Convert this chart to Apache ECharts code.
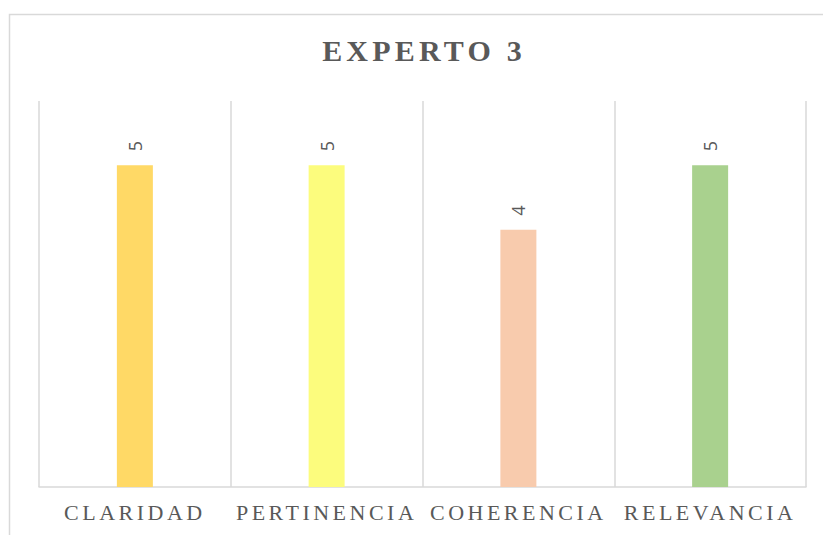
<!DOCTYPE html>
<html>
<head>
<meta charset="utf-8">
<script src="https://cdn.jsdelivr.net/npm/echarts@6/dist/echarts.min.js"></script>
<style>
html, body { margin: 0; padding: 0; background: #fff; }
#chart { width: 823px; height: 535px; }
#chart text[style*="Serif"] { letter-spacing: 3.5px; }
#chart text[style*="bold"][style*="Serif"] { letter-spacing: 4.2px; }
</style>
</head>
<body>
<div id="chart"></div>
<script>
const titleText = 'EXPERTO 3';
const categories = ['CLARIDAD', 'PERTINENCIA', 'COHERENCIA', 'RELEVANCIA'];
const values = [5, 5, 4, 5];
const barColors = ['#FFD966', '#FCFC7D', '#F8CBAD', '#A9D18E'];

const chart = echarts.init(document.getElementById('chart'), null, { renderer: 'svg' });
chart.setOption({
  animation: false,
  backgroundColor: '#ffffff',
  title: {
    text: titleText,
    left: 419,
    textAlign: 'center',
    top: 30,
    textStyle: {
      fontFamily: 'Liberation Serif',
      fontWeight: 'bold',
      fontSize: 30,
      color: '#595959'
    }
  },
  graphic: [{
    type: 'rect',
    shape: { x: 9.5, y: 14.5, width: 900, height: 600 },
    style: { fill: 'none', stroke: '#d9d9d9', lineWidth: 1.5 },
    silent: true,
    z: -10
  }],
  grid: { left: 39, right: 17, top: 101, bottom: 48, containLabel: false },
  xAxis: {
    type: 'category',
    data: categories,
    boundaryGap: true,
    axisLine: { show: true, lineStyle: { color: '#d9d9d9', width: 1.5 } },
    axisTick: { show: false },
    splitLine: { show: true, lineStyle: { color: '#d9d9d9', width: 1.5 } },
    axisLabel: {
      interval: 0,
      margin: 14,
      fontFamily: 'Liberation Serif',
      fontSize: 22,
      color: '#595959'
    }
  },
  yAxis: {
    type: 'value',
    min: 0,
    max: 6,
    interval: 1,
    show: false,
    splitLine: { show: false }
  },
  series: [{
    type: 'bar',
    barWidth: 36,
    data: values.map((v, i) => ({ value: v, itemStyle: { color: barColors[i] } })),
    label: {
      show: true,
      position: 'top',
      rotate: 90,
      align: 'left',
      verticalAlign: 'middle',
      distance: 14,
      fontFamily: 'Open Sans',
      fontSize: 18,
      color: '#595959'
    }
  }]
});
</script>
</body>
</html>
